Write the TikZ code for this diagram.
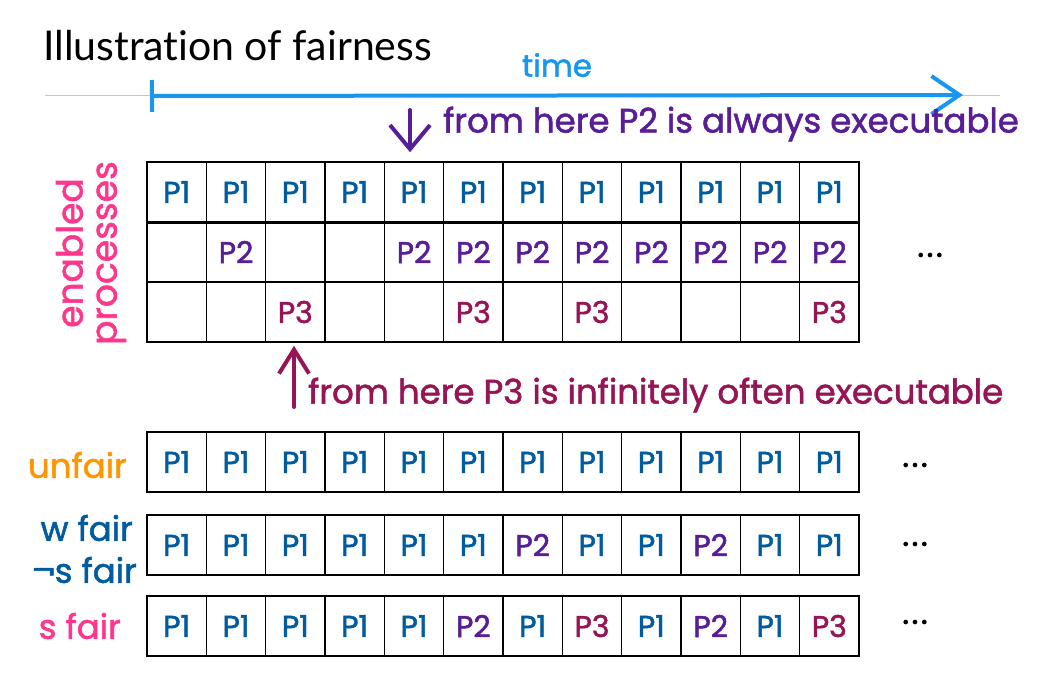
\documentclass[tikz,border=0pt]{standalone}
\usepackage{fontspec}
\setmainfont{Poppins}[FakeBold=1.6,AutoFakeBold=1.6]
\newfontfamily\handfont{Poppins}[FakeBold=1.6]
\newfontfamily\dotfont{Poppins}[FakeBold=3]
\newfontfamily\titlefont{Lato}[Ligatures=NoCommon]
\usetikzlibrary{arrows.meta}
\definecolor{p1}{RGB}{0,92,158}
\definecolor{p2}{RGB}{88,30,150}
\definecolor{p3}{RGB}{150,22,85}
\definecolor{timeblue}{RGB}{25,150,240}
\definecolor{pinkc}{RGB}{255,55,140}
\definecolor{orangec}{RGB}{255,150,0}
\newcommand\plab[1]{\ifnum#1=0\relax\else\textcolor{p#1}{P#1}\fi}
\tikzset{
  cell/.style={draw, line width=1.6pt, minimum width=59.33pt, minimum height=60pt, inner sep=0pt, font=\handfont\fontsize{30}{32}\selectfont},
  hand/.style={line width=4pt, line cap=round, line join=round},
  lbl/.style={font=\handfont\fontsize{34}{38}\selectfont, inner sep=0pt},
  dots/.style={font=\dotfont\fontsize{30}{32}\selectfont, inner sep=0pt}
}
\begin{document}
\begin{tikzpicture}[x=1pt,y=-1pt]
\useasboundingbox[fill=white] (0,0) rectangle (1045,680);
% title
\node[anchor=west, inner sep=0pt, font=\titlefont\fontsize{41}{48}\selectfont] (title) at (43,46) {Illustration of fairness};
% time axis
\coordinate (gl) at (45,95);
\coordinate (gr) at (1000,95);
\draw[gray!45, line width=1pt] (gl) -- (gr);
\coordinate (ts) at (150,96);
\coordinate (te) at (963,95);
\draw[hand, timeblue, {Bar[width=32pt,line width=4pt]}-{Straight Barb[length=28pt,width=38pt,line width=4pt]}] (ts) -- (te);
\node[lbl, timeblue, font=\handfont\fontsize{31}{36}\selectfont] (time) at (557,65) {time};
% enabled processes grid
\foreach \v [count=\i] in {1,1,1,1,1,1,1,1,1,1,1,1}
  \node[cell] (ra\i) at ({147+59.333*(\i-0.5)},192) {\plab{\v}};
\foreach \v [count=\i] in {0,2,0,0,2,2,2,2,2,2,2,2}
  \node[cell] (rb\i) at ({147+59.333*(\i-0.5)},252) {\plab{\v}};
\foreach \v [count=\i] in {0,0,3,0,0,3,0,3,0,0,0,3}
  \node[cell] (rc\i) at ({147+59.333*(\i-0.5)},312) {\plab{\v}};
\draw[line width=3pt] (ra1.south west) -- (ra12.south east);
\node[dots] (d0) at (930,255) {.\hspace{3pt}.\hspace{3pt}.};
\node[lbl, pinkc, rotate=90, align=center, font=\handfont\fontsize{36}{34}\selectfont] (ep) at (91,253) {enabled\\processes};
% annotations
\coordinate (a2s) at (410,110);
\draw[hand, p2, -{Straight Barb[length=24pt,width=40pt,line width=4pt]}, shorten >=9pt] (a2s) -- (ra5.north -| a2s);
\node[lbl, p2, anchor=west] (t2) at (443,124) {from here P2 is always executable};
\coordinate (a3s) at (294,407);
\draw[hand, p3, -{Straight Barb[length=24pt,width=30pt,line width=4pt]}, shorten >=3pt] (a3s) -- (rc3.south -| a3s);
\node[lbl, p3, anchor=west] (t3) at (308,395) {from here P3 is infinitely often executable};
% runs
\foreach \v [count=\i] in {1,1,1,1,1,1,1,1,1,1,1,1}
  \node[cell] (ua\i) at ({147+59.333*(\i-0.5)},462) {\plab{\v}};
\foreach \v [count=\i] in {1,1,1,1,1,1,2,1,1,2,1,1}
  \node[cell] (wa\i) at ({147+59.333*(\i-0.5)},545) {\plab{\v}};
\foreach \v [count=\i] in {1,1,1,1,1,2,1,3,1,2,1,3}
  \node[cell] (sa\i) at ({147+59.333*(\i-0.5)},626) {\plab{\v}};
\node[dots] (d1) at (915,465) {.\hspace{3pt}.\hspace{3pt}.};
\node[dots] (d2) at (915,544) {.\hspace{3pt}.\hspace{3pt}.};
\node[dots] (d3) at (915,622) {.\hspace{3pt}.\hspace{3pt}.};
\node[lbl, orangec, anchor=east] (lu) at (127,465) {unfair};
\node[lbl, p1, anchor=east] (lw) at (133,528) {w fair};
\node[lbl, p1, anchor=east] (ln) at (137,570) {¬s fair};
\node[lbl, pinkc, anchor=east] (ls) at (121,626) {s fair};
\end{tikzpicture}
\end{document}
